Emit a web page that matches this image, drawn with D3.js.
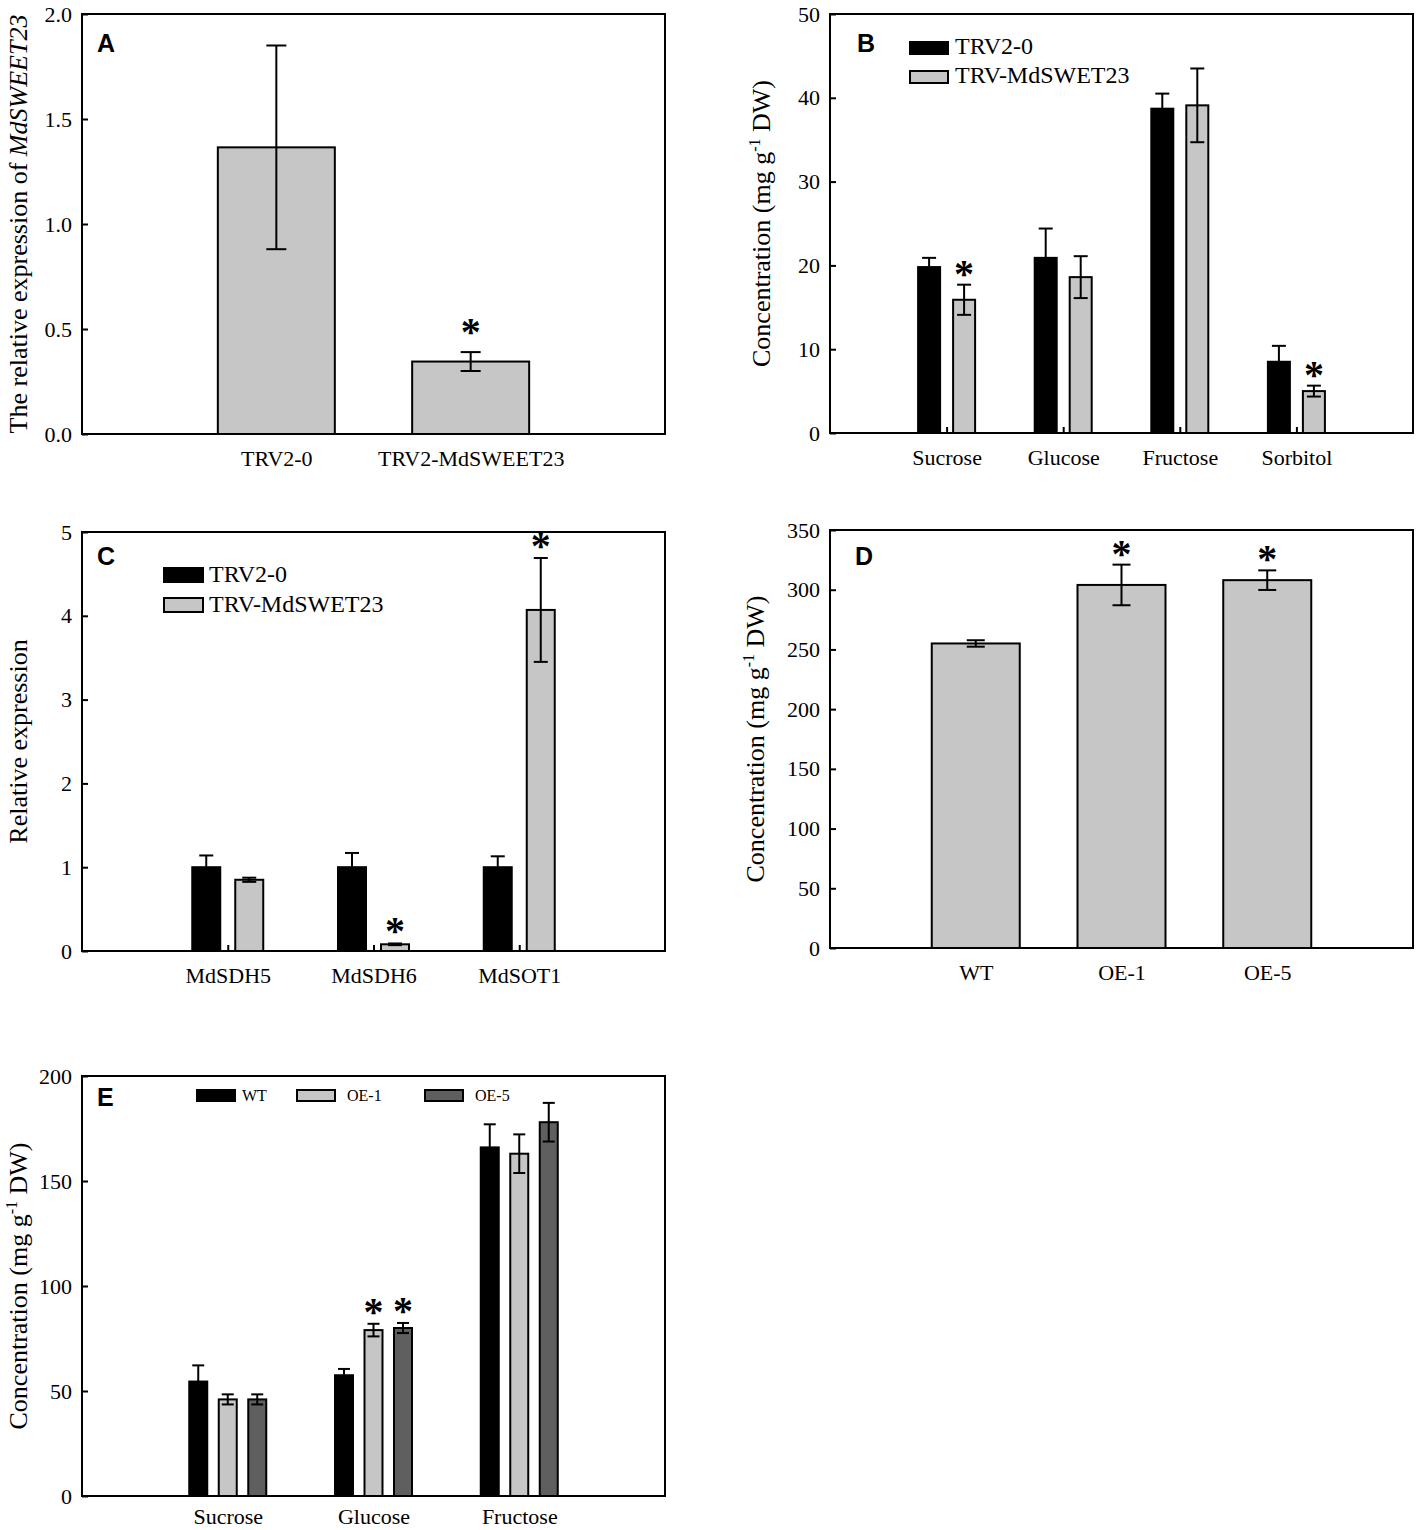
<!DOCTYPE html>
<html>
<head>
<meta charset="utf-8">
<script src="https://cdn.jsdelivr.net/npm/d3@7/dist/d3.min.js"></script>
<style>
  html, body { margin: 0; padding: 0; background: #fff; }
  svg { display: block; }
</style>
</head>
<body>
<svg id="chart" width="1418" height="1530"></svg>
<script>
// ---------------- DATA ----------------
// Panel A
const aCategories = ["TRV2-0", "TRV2-MdSWEET23"];
const aValues = [1.365, 0.345];
const aErrors = [0.485, 0.045];
const aSignif = [false, true];
const aTicks = [0.0, 0.5, 1.0, 1.5, 2.0];

// Panel B
const bCategories = ["Sucrose", "Glucose", "Fructose", "Sorbitol"];
const bSeriesNames = ["TRV2-0", "TRV-MdSWET23"];
const bControl = [19.8, 20.9, 38.7, 8.5];
const bControlErr = [1.1, 3.5, 1.8, 1.9];
const bSilenced = [15.9, 18.6, 39.1, 5.0];
const bSilencedErr = [1.8, 2.5, 4.4, 0.65];
const bSilencedSignif = [true, false, false, true];
const bTicks = [0, 10, 20, 30, 40, 50];

// Panel C
const cCategories = ["MdSDH5", "MdSDH6", "MdSOT1"];
const cSeriesNames = ["TRV2-0", "TRV-MdSWET23"];
const cControl = [1.0, 1.0, 1.0];
const cControlErr = [0.14, 0.17, 0.13];
const cSilenced = [0.85, 0.08, 4.07];
const cSilencedErr = [0.025, 0.01, 0.62];
const cSilencedSignif = [false, true, true];
const cTicks = [0, 1, 2, 3, 4, 5];

// Panel D
const dCategories = ["WT", "OE-1", "OE-5"];
const dValues = [255, 304, 308];
const dErrors = [2.7, 17, 8.2];
const dSignif = [false, true, true];
const dTicks = [0, 50, 100, 150, 200, 250, 300, 350];

// Panel E
const eCategories = ["Sucrose", "Glucose", "Fructose"];
const eSeriesNames = ["WT", "OE-1", "OE-5"];
const eWT = [54.5, 57.5, 166];
const eWTErr = [7.7, 3.0, 11];
const eOE1 = [46, 79, 163];
const eOE1Err = [2.4, 3.0, 9.2];
const eOE5 = [46, 80, 178];
const eOE5Err = [2.4, 2.4, 9.2];
const eOE1Signif = [false, true, false];
const eOE5Signif = [false, true, false];
const eTicks = [0, 50, 100, 150, 200];

// ---------------- STYLE ----------------
const SERIF = "'Liberation Serif', 'Times New Roman', serif";
const SANS = "'Liberation Sans', Arial, sans-serif";
const BLACK = "#000000", LIGHT = "#c6c6c6", DARK = "#5f5f5f";

const svg = d3.select("#chart");
svg.append("rect").attr("width", 1418).attr("height", 1530).attr("fill", "#fff");

function drawPanel(cfg) {
  const g = svg.append("g");
  const { x0, y0, w, h } = cfg.box;
  const x = d3.scalePoint().domain(cfg.categories).range([x0, x0 + w]).padding(1);
  const y = d3.scaleLinear().domain(cfg.yDomain).range([y0 + h, y0]);

  // Y axis (inward ticks)
  const yAxis = d3.axisLeft(y).tickValues(cfg.yTicks).tickFormat(cfg.tickFormat)
    .tickSizeInner(-6).tickSizeOuter(0).tickPadding(10);
  const ya = g.append("g").attr("transform", `translate(${x0},0)`).call(yAxis);
  ya.select(".domain").remove();
  ya.selectAll("line").attr("stroke", "#000").attr("stroke-width", 2);
  ya.selectAll("text").attr("font-family", SERIF).attr("font-size", 22).attr("fill", "#000");

  // X axis
  const xAxis = d3.axisBottom(x).tickSizeInner(-6).tickSizeOuter(0).tickPadding(cfg.xPad || 16);
  const xa = g.append("g").attr("transform", `translate(0,${y0 + h})`).call(xAxis);
  xa.select(".domain").remove();
  xa.selectAll("line").attr("stroke", "#000").attr("stroke-width", 2);
  xa.selectAll("text").attr("font-family", SERIF).attr("font-size", 22).attr("fill", "#000");

  // Bars
  const m = cfg.series.length;
  cfg.series.forEach((s, si) => {
    const off = (si - (m - 1) / 2) * cfg.offsetStep;
    const data = cfg.categories.map((c, i) => ({ c, v: s.values[i], e: s.errors[i], sig: s.signif ? s.signif[i] : false }));
    g.append("g").selectAll("rect").data(data).join("rect")
      .attr("x", d => x(d.c) + off - cfg.barWidth / 2)
      .attr("width", cfg.barWidth)
      .attr("y", d => y(d.v))
      .attr("height", d => y(0) - y(d.v))
      .attr("fill", s.color)
      .attr("stroke", "#000").attr("stroke-width", 2);
    const eg = g.append("g").attr("stroke", "#000").attr("stroke-width", 2);
    data.forEach(d => {
      const cx = x(d.c) + off;
      const top = y(d.v + d.e), bot = y(d.v - d.e);
      eg.append("line").attr("x1", cx).attr("x2", cx).attr("y1", top).attr("y2", bot);
      eg.append("line").attr("x1", cx - cfg.cap / 2).attr("x2", cx + cfg.cap / 2).attr("y1", top).attr("y2", top);
      eg.append("line").attr("x1", cx - cfg.cap / 2).attr("x2", cx + cfg.cap / 2).attr("y1", bot).attr("y2", bot);
      if (d.sig) {
        g.append("text").attr("x", cx).attr("y", top - cfg.starGap + 17)
          .attr("text-anchor", "middle").attr("font-family", SERIF)
          .attr("font-size", 40).attr("font-weight", "bold").text("*");
      }
    });
  });

  // Frame
  g.append("rect").attr("x", x0).attr("y", y0).attr("width", w).attr("height", h)
    .attr("fill", "none").attr("stroke", "#000").attr("stroke-width", 2);

  // Panel letter
  g.append("text").attr("x", cfg.letterPos[0]).attr("y", cfg.letterPos[1])
    .attr("font-family", SANS).attr("font-weight", "bold").attr("font-size", 25).text(cfg.letter);

  // Y title
  const t = g.append("text")
    .attr("transform", `translate(${cfg.titleX},${y0 + h / 2}) rotate(-90)`)
    .attr("text-anchor", "middle").attr("font-family", SERIF).attr("font-size", 26);
  cfg.title(t);

  // Legend
  if (cfg.legend) {
    const L = cfg.legend;
    cfg.series.forEach((s, si) => {
      const lx = L.x[si], ly = L.y[si];
      g.append("rect").attr("x", lx).attr("y", ly).attr("width", L.w).attr("height", L.h)
        .attr("fill", s.color).attr("stroke", "#000").attr("stroke-width", 2);
      g.append("text").attr("x", L.tx[si]).attr("y", ly + L.h + L.dy)
        .attr("font-family", SERIF).attr("font-size", L.size).text(s.name);
    });
  }
}

function concTitle(t) {
  t.append("tspan").text("Concentration (mg g");
  t.append("tspan").attr("font-size", 16).attr("dy", -10).text("-1");
  t.append("tspan").attr("dy", 10).text(" DW)");
}

// Panel A
drawPanel({
  box: { x0: 82, y0: 14, w: 583, h: 420 },
  categories: aCategories, yDomain: [0, 2], yTicks: aTicks, tickFormat: d3.format(".1f"),
  series: [{ name: "", values: aValues, errors: aErrors, signif: aSignif, color: LIGHT }],
  barWidth: 117, offsetStep: 0, cap: 20, starGap: 24,
  letter: "A", letterPos: [97, 52], titleX: 27,
  title: t => { t.append("tspan").text("The relative expression of "); t.append("tspan").attr("font-style", "italic").text("MdSWEET23"); }
});

// Panel B
drawPanel({
  box: { x0: 830, y0: 14, w: 583, h: 419 },
  categories: bCategories, yDomain: [0, 50], yTicks: bTicks, tickFormat: d3.format("d"),
  series: [
    { name: bSeriesNames[0], values: bControl, errors: bControlErr, color: BLACK },
    { name: bSeriesNames[1], values: bSilenced, errors: bSilencedErr, signif: bSilencedSignif, color: LIGHT }
  ],
  barWidth: 22, offsetStep: 35, cap: 14, starGap: 15,
  letter: "B", letterPos: [857, 52], titleX: 770, title: concTitle,
  legend: { x: [910, 910], y: [42, 71], w: 38, h: 12, tx: [955, 955], dy: 0, size: 24 }
});

// Panel C
drawPanel({
  box: { x0: 82, y0: 532, w: 583, h: 419 },
  categories: cCategories, yDomain: [0, 5], yTicks: cTicks, tickFormat: d3.format("d"),
  series: [
    { name: cSeriesNames[0], values: cControl, errors: cControlErr, color: BLACK },
    { name: cSeriesNames[1], values: cSilenced, errors: cSilencedErr, signif: cSilencedSignif, color: LIGHT }
  ],
  barWidth: 28, offsetStep: 43, cap: 14, starGap: 16,
  letter: "C", letterPos: [97, 565], titleX: 27,
  title: t => t.text("Relative expression"),
  legend: { x: [164, 164], y: [568, 598], w: 39, h: 14, tx: [209, 209], dy: 0, size: 24 }
});

// Panel D
drawPanel({
  box: { x0: 830, y0: 530, w: 583, h: 418 },
  categories: dCategories, yDomain: [0, 350], yTicks: dTicks, tickFormat: d3.format("d"),
  series: [{ name: "", values: dValues, errors: dErrors, signif: dSignif, color: LIGHT }],
  barWidth: 88, offsetStep: 0, cap: 18, starGap: 15,
  letter: "D", letterPos: [855, 565], titleX: 764, title: concTitle
});

// Panel E
drawPanel({
  box: { x0: 82, y0: 1076, w: 583, h: 420 },
  categories: eCategories, yDomain: [0, 200], yTicks: eTicks, tickFormat: d3.format("d"),
  series: [
    { name: eSeriesNames[0], values: eWT, errors: eWTErr, color: BLACK },
    { name: eSeriesNames[1], values: eOE1, errors: eOE1Err, signif: eOE1Signif, color: LIGHT },
    { name: eSeriesNames[2], values: eOE5, errors: eOE5Err, signif: eOE5Signif, color: DARK }
  ],
  barWidth: 18, offsetStep: 29.5, cap: 12, starGap: 16, xPad: 12,
  letter: "E", letterPos: [97, 1106], titleX: 27, title: concTitle,
  legend: { x: [197, 297, 425], y: [1090, 1090, 1090], w: 38, h: 11, tx: [242, 347, 475], dy: 0, size: 16 }
});
</script>
</body>
</html>
